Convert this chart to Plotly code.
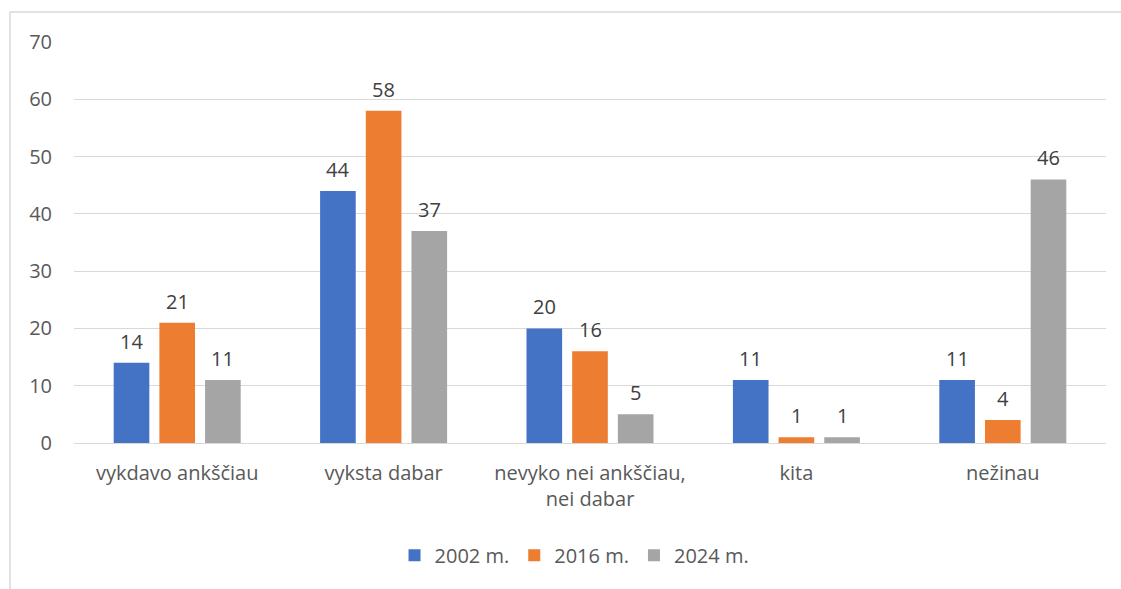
import plotly.graph_objects as go

categories = ["vykdavo ankščiau", "vyksta dabar", "nevyko nei ankščiau,<br>nei dabar", "kita", "nežinau"]
series_names = ["2002 m.", "2016 m.", "2024 m."]
values_2002 = [14, 44, 20, 11, 11]
values_2016 = [21, 58, 16, 1, 4]
values_2024 = [11, 37, 5, 1, 46]
colors = ["#4472C4", "#ED7D31", "#A5A5A5"]
y_ticks = [0, 10, 20, 30, 40, 50, 60, 70]

FONT = "Open Sans, Carlito, Calibri, sans-serif"
FS = 20

W, H = 1121, 589
ML, MR, MT, MB = 74, 15, 42, 146
BARGAP = 0.336
plot_w = W - ML - MR
slot_px = plot_w / len(categories) * (1 - BARGAP) / 3

fig = go.Figure()
annotations = []
for i, (name, vals, col) in enumerate(zip(series_names, [values_2002, values_2016, values_2024], colors)):
    fig.add_trace(go.Bar(
        name=name, x=categories, y=vals, marker_color=col, marker_line_width=0,
    ))
    for c, v in zip(categories, vals):
        annotations.append(dict(
            x=c, y=v, xref="x", yref="y", text=str(v), showarrow=False,
            xanchor="center", yanchor="bottom", xshift=(i - 1) * slot_px, yshift=6,
            font=dict(family=FONT, size=FS, color="#404040"),
        ))

fig.update_layout(
    width=W, height=H,
    margin=dict(l=ML, r=MR, t=MT, b=MB, autoexpand=False),
    paper_bgcolor="white", plot_bgcolor="white",
    barmode="group", bargap=BARGAP, bargroupgap=0.22,
    font=dict(family=FONT, size=FS, color="#595959"),
    showlegend=True,
    legend=dict(orientation="h", x=0.485, xanchor="center", y=-0.28, yanchor="middle",
                font=dict(family=FONT, size=FS, color="#595959"),
                traceorder="normal"),
    yaxis=dict(range=[0, 70], tickvals=y_ticks, showgrid=True, gridcolor="#D9D9D9",
               gridwidth=1, zeroline=True, zerolinecolor="#D9D9D9", zerolinewidth=1,
               showline=False, ticklabelstandoff=21, automargin=False,
               tickfont=dict(family=FONT, size=FS, color="#595959")),
    xaxis=dict(showline=False, showgrid=False, ticks="", ticklabelstandoff=16, automargin=False,
               tickfont=dict(family=FONT, size=FS, color="#595959")),
    annotations=annotations,
    shapes=[dict(type="rect", xref="paper", yref="paper",
                 x0=-0.062, x1=1.2, y0=-0.6, y1=1.0748,
                 line=dict(color="#D9D9D9", width=1.5), fillcolor="rgba(0,0,0,0)",
                 layer="below")],
)

fig.write_html("out.html", config={"displayModeBar": False},
               post_script="document.body.style.margin='0px';document.body.style.overflow='hidden';")
